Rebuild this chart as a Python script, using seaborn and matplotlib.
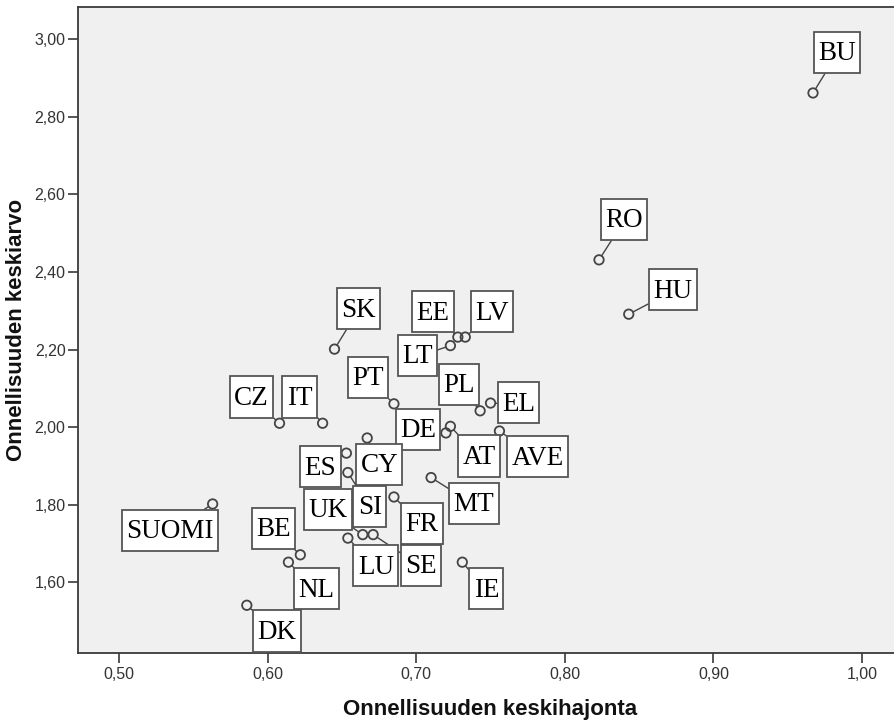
import matplotlib
matplotlib.use("Agg")
import matplotlib.pyplot as plt
from matplotlib.ticker import FuncFormatter
from matplotlib.path import Path
import seaborn as sns
import pandas as pd

# ---- data ----
countries = ["BU", "RO", "HU", "SK", "EE", "LV", "LT", "PT", "PL", "EL",
             "CZ", "IT", "DE", "AT", "AVE", "ES", "CY", "SI", "MT", "SUOMI",
             "FR", "UK", "SE", "LU", "BE", "NL", "DK", "IE"]
std_dev = [0.967, 0.823, 0.843, 0.645, 0.728, 0.733, 0.723, 0.685, 0.743, 0.750,
           0.608, 0.637, 0.720, 0.723, 0.756, 0.653, 0.667, 0.654, 0.710, 0.563,
           0.685, 0.664, 0.671, 0.654, 0.622, 0.614, 0.586, 0.731]
mean_val = [2.861, 2.431, 2.291, 2.201, 2.232, 2.232, 2.210, 2.060, 2.042, 2.062,
            2.010, 2.010, 1.985, 2.002, 1.990, 1.933, 1.972, 1.883, 1.870, 1.802,
            1.820, 1.723, 1.723, 1.714, 1.671, 1.652, 1.541, 1.652]
x_ticks = [0.50, 0.60, 0.70, 0.80, 0.90, 1.00]
y_ticks = [1.60, 1.80, 2.00, 2.20, 2.40, 2.60, 2.80, 3.00]
x_title = "Onnellisuuden keskihajonta"
y_title = "Onnellisuuden keskiarvo"

# ---- layout: label box offsets from their point, in pixels ----
label_offsets = {
    "BU": (24, 40), "RO": (25, 40), "HU": (44, 24), "SK": (24, 40),
    "EE": (-25, 25), "LV": (27, 25), "LT": (-33, -10), "PT": (-26, 26),
    "PL": (-21, 26), "EL": (28, 0), "CZ": (-28, 26), "IT": (-23, 26),
    "DE": (-28, 3), "AT": (29, -30), "AVE": (38, -26), "ES": (-26, -14),
    "CY": (12, -27), "SI": (22, -34), "MT": (43, -26), "SUOMI": (-43, -27),
    "FR": (28, -27), "UK": (-35, 25), "SE": (48, -31), "LU": (28, -28),
    "BE": (-27, 26), "NL": (28, -27), "DK": (30, -26), "IE": (24, -27),
}


def label_box(x0, y0, width, height, mutation_size):
    """Rectangle with separate horizontal / vertical padding (caps centred)."""
    padx = 0.16 * mutation_size
    pad_bottom = 0.25 * mutation_size
    pad_top = 0.35 * mutation_size
    xa, ya = x0 - padx, y0 - pad_bottom
    xb, yb = x0 + width + padx, y0 + height + pad_top
    return Path([(xa, ya), (xb, ya), (xb, yb), (xa, yb), (xa, ya)], closed=True)


df = pd.DataFrame({"country": countries, "sd": std_dev, "mean": mean_val})

sns.set_theme(style="white")
plt.rcParams["font.family"] = ["Liberation Sans", "DejaVu Sans"]

W, H = 894, 725
fig = plt.figure(figsize=(W / 100, H / 100), dpi=100)
fig.patch.set_facecolor("white")
ax = fig.add_axes([78 / W, 72 / H, (W - 78) / W, 646 / H])
ax.set_facecolor("#F0F0F0")

edge = "#444444"
sns.scatterplot(data=df, x="sd", y="mean", ax=ax, s=46, marker="o",
                facecolors="none", edgecolor=edge, linewidth=1.3,
                legend=False, zorder=3)
ax.collections[0].set_facecolor("none")

for name, xv, yv in zip(countries, std_dev, mean_val):
    dx, dy = label_offsets[name]
    ax.annotate(name, xy=(xv, yv), xytext=(dx, dy - 1), textcoords="offset pixels",
                ha="center", va="center", fontsize=19.5,
                family=["Liberation Serif", "DejaVu Serif"], color="black",
                bbox=dict(boxstyle=label_box, fc="white", ec="#555555", lw=1.3),
                arrowprops=dict(arrowstyle="-", color=edge, lw=1.0,
                                shrinkA=0, shrinkB=3.5),
                zorder=4)

ax.set_xlim(0.4724, 1.0215)
ax.set_ylim(1.418, 3.0825)
ax.set_xticks(x_ticks)
ax.set_yticks(y_ticks)
fmt = FuncFormatter(lambda v, p: f"{v:.2f}".replace(".", ","))
ax.xaxis.set_major_formatter(fmt)
ax.yaxis.set_major_formatter(fmt)

spine_c = "#3a3a3a"
for side in ["left", "bottom", "top"]:
    ax.spines[side].set_visible(True)
    ax.spines[side].set_color(spine_c)
    ax.spines[side].set_linewidth(1.3)
ax.spines["right"].set_visible(False)

ax.tick_params(axis="both", direction="out", length=7, width=1.2, color=spine_c,
               labelsize=11.5, labelcolor="#333333", pad=2,
               bottom=True, left=True, top=False, right=False)
ax.tick_params(axis="x", pad=3)

ax.set_xlabel(x_title, fontsize=16, fontweight="bold", color="#111111")
ax.set_ylabel(y_title, fontsize=16, fontweight="bold", color="#111111")
ax.xaxis.set_label_coords(0.505, -0.071)
ax.yaxis.set_label_coords(-0.0625, 0.5)

fig.savefig("out.png", dpi=100, facecolor="white")
